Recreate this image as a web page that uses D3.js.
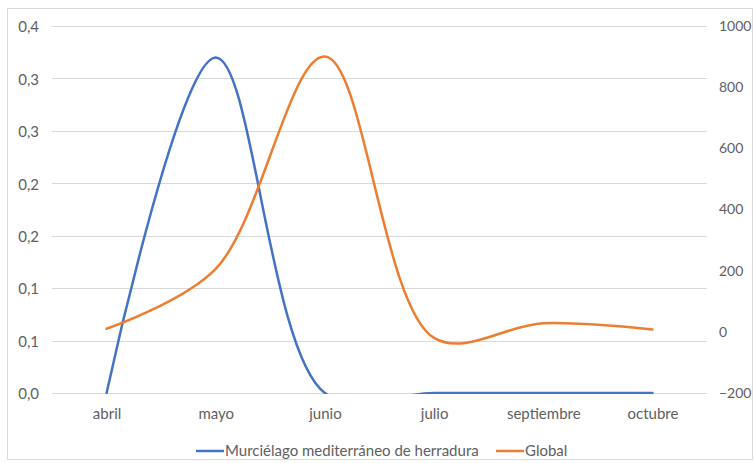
<!DOCTYPE html>
<html>
<head>
<meta charset="utf-8">
<script src="https://cdn.jsdelivr.net/npm/d3@7"></script>
<style>
  html, body { margin: 0; padding: 0; background: #fff; }
  svg { display: block; }
  text { font-family: Lato, "Liberation Sans", sans-serif; fill: #606060; }
</style>
</head>
<body>
<svg id="chart" width="754" height="463"></svg>
<script>
// Months on the shared category axis
const months = ["abril", "mayo", "junio", "julio", "septiembre", "octubre"];
// Left axis series
const murcielago = [0, 0.32, 0, 0, 0, 0];
// Right axis series
const global = [10, 206, 900, -20, 28, 8];
// Tick values for both axes
const leftTicks = [0, 0.05, 0.1, 0.15, 0.2, 0.25, 0.3, 0.35];
const rightTicks = [-200, 0, 200, 400, 600, 800, 1000];

const seriesNames = ["Murciélago mediterráneo de herradura", "Global"];
const colors = ["#4472C4", "#ED7D31"];

const W = 754, H = 463;
const plot = { left: 52, right: 707, top: 26, bottom: 393 };
const FONT = "15px";

const svg = d3.select("#chart");

// Outer chart border
svg.append("rect")
  .attr("x", 7.5).attr("y", 8.5)
  .attr("width", W - 9).attr("height", H - 12)
  .attr("fill", "#fff").attr("stroke", "#d9d9d9").attr("stroke-width", 1);

const x = d3.scalePoint().domain(months)
  .range([plot.left, plot.right]).padding(0.5);
const yL = d3.scaleLinear().domain([0, 0.35]).range([plot.bottom, plot.top]);
const yR = d3.scaleLinear().domain([-200, 1000]).range([plot.bottom, plot.top]);

// Horizontal gridlines
svg.append("g").selectAll("line").data(leftTicks).join("line")
  .attr("x1", plot.left).attr("x2", plot.right)
  .attr("y1", d => Math.round(yL(d)) + 0.5).attr("y2", d => Math.round(yL(d)) + 0.5)
  .attr("stroke", "#d9d9d9").attr("stroke-width", 1);

// One decimal, half rounded up, decimal comma
const fmtL = v => (Math.round(v * 10 + 1e-9) / 10).toFixed(1).replace(".", ",");

function styleAxis(size) {
  return g => {
    g.select(".domain").remove();
    g.selectAll("text").style("font-size", size)
      .style("font-family", "Lato, sans-serif").attr("fill", "#606060");
  };
}

// Left axis labels
svg.append("g").attr("transform", `translate(${plot.left - 13},1)`)
  .call(d3.axisLeft(yL).tickValues(leftTicks).tickFormat(fmtL).tickSize(0).tickPadding(0))
  .call(styleAxis(FONT));

// Right axis labels
svg.append("g").attr("transform", `translate(${plot.right + 12},0)`)
  .call(d3.axisRight(yR).tickValues(rightTicks).tickFormat(d3.format("d")).tickSize(0).tickPadding(0))
  .call(styleAxis("14px"));

// Category labels
svg.append("g").attr("transform", `translate(0,${plot.bottom + 15})`)
  .call(d3.axisBottom(x).tickSize(0).tickPadding(0))
  .call(styleAxis(FONT));

// Clip lines to the plot area
svg.append("clipPath").attr("id", "plotClip").append("rect")
  .attr("x", plot.left - 5).attr("y", plot.top - 5)
  .attr("width", plot.right - plot.left + 10).attr("height", plot.bottom - plot.top + 6);

const curve = d3.curveCatmullRom.alpha(0.5);
const lineL = d3.line().x((d, i) => x(months[i])).y(d => yL(d)).curve(curve);
const lineR = d3.line().x((d, i) => x(months[i])).y(d => yR(d)).curve(curve);

const lines = svg.append("g").attr("clip-path", "url(#plotClip)");
lines.append("path").datum(murcielago).attr("d", lineL)
  .attr("fill", "none").attr("stroke", colors[0]).attr("stroke-width", 2.5)
  .attr("stroke-linecap", "round").attr("stroke-linejoin", "round");
lines.append("path").datum(global).attr("d", lineR)
  .attr("fill", "none").attr("stroke", colors[1]).attr("stroke-width", 2.5)
  .attr("stroke-linecap", "round").attr("stroke-linejoin", "round");

// Legend
const legendY = 451;
const legendX = [196, 496];
const leg = svg.append("g");
seriesNames.forEach((name, i) => {
  leg.append("line")
    .attr("x1", legendX[i]).attr("x2", legendX[i] + 28)
    .attr("y1", legendY).attr("y2", legendY)
    .attr("stroke", colors[i]).attr("stroke-width", 2.5);
  leg.append("text")
    .attr("x", legendX[i] + 29).attr("y", legendY).attr("dy", "0.35em")
    .style("font-size", FONT).text(name);
});
</script>
</body>
</html>
